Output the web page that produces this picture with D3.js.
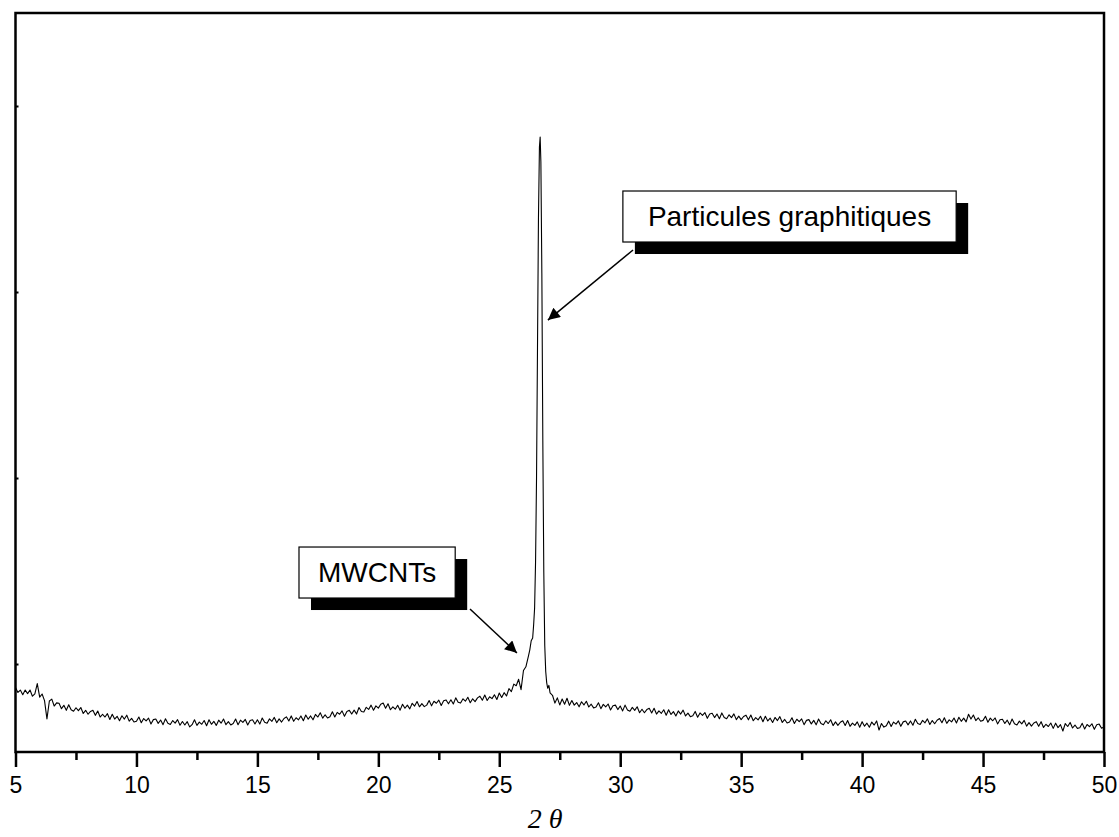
<!DOCTYPE html>
<html>
<head>
<meta charset="utf-8">
<script src="https://cdn.jsdelivr.net/npm/d3@7/dist/d3.min.js"></script>
<style>
  html, body { margin: 0; padding: 0; background: #fff; }
  svg { display: block; }
</style>
</head>
<body>
<svg id="chart" width="1119" height="837"></svg>
<script>
// ---------------- DATA ----------------
// XRD scan: 2θ grid start/step and counts (arbitrary units)
const scanStart = 5.0;
const scanStep = 0.1;

// 5.0° .. 26.2°
const lowAngleCounts = [
  874, 847, 860, 835, 860, 841, 860, 827, 840, 895,
  822, 839, 803, 705, 801, 811, 774, 791, 789, 760,
  778, 751, 781, 754, 746, 765, 749, 766, 734, 751,
  730, 745, 751, 724, 747, 715, 730, 715, 733, 702,
  730, 704, 719, 695, 722, 704, 725, 693, 708, 688,
  692, 715, 684, 707, 694, 709, 678, 701, 704, 681,
  699, 674, 706, 681, 675, 696, 682, 701, 671, 691,
  672, 690, 662, 674, 700, 670, 688, 676, 696, 668,
  700, 676, 692, 670, 698, 682, 704, 674, 690, 672,
  680, 704, 674, 698, 686, 702, 672, 696, 700, 678,
  700, 677, 710, 687, 682, 705, 692, 713, 684, 705,
  688, 707, 716, 694, 721, 692, 711, 700, 721, 695,
  726, 703, 721, 700, 729, 715, 738, 709, 727, 710,
  717, 743, 715, 740, 730, 748, 719, 745, 751, 731,
  752, 731, 766, 745, 742, 767, 756, 779, 752, 775,
  763, 784, 790, 762, 786, 754, 770, 757, 778, 752,
  784, 762, 779, 759, 789, 774, 798, 770, 787, 771,
  779, 804, 775, 800, 789, 806, 777, 802, 807, 786,
  808, 785, 818, 795, 790, 813, 800, 821, 792, 813,
  798, 818, 827, 805, 833, 804, 824, 814, 835, 809,
  844, 820, 846, 828, 868, 852, 892, 883, 918, 862,
  965, 985, 1040
];

// graphite (002) reflection, finer sampling
const peakTheta = [26.26, 26.32, 26.38, 26.42, 26.46, 26.50, 26.54, 26.58, 26.62, 26.66, 26.69,
                   26.72, 26.76, 26.80, 26.84, 26.88, 26.92, 26.96, 27.00, 27.05, 27.10];
const peakCounts = [1075, 1125, 1140, 1210, 1300, 1550, 2000, 2700, 3400, 3780, 3833,
                    3700, 3100, 2200, 1500, 1100, 960, 900, 870, 885, 845];

// 27.2° .. 50.0°
const highAngleStart = 27.2;
const highAngleCounts = [
  832, 790, 818, 780, 812, 784, 816, 778,
  804, 779, 793, 770, 797, 780, 800, 769, 784, 764,
  769, 792, 760, 783, 770, 785, 753, 776, 779, 755,
  774, 748, 779, 753, 746, 767, 751, 770, 738, 757,
  738, 755, 762, 737, 762, 731, 748, 735, 754, 725,
  754, 729, 744, 721, 748, 731, 752, 721, 736, 717,
  722, 745, 714, 737, 724, 739, 708, 731, 735, 712,
  731, 706, 737, 713, 706, 727, 712, 732, 701, 720,
  701, 718, 725, 700, 726, 695, 712, 700, 719, 690,
  719, 694, 709, 686, 713, 696, 717, 686, 702, 683,
  688, 711, 680, 703, 690, 705, 674, 697, 701, 678,
  697, 673, 704, 680, 673, 695, 680, 700, 669, 689,
  670, 687, 695, 670, 696, 665, 682, 670, 689, 660,
  690, 666, 682, 660, 688, 672, 694, 645, 680, 661,
  668, 693, 664, 688, 677, 694, 665, 689, 694, 673,
  694, 671, 703, 680, 675, 697, 684, 705, 675, 696,
  679, 698, 707, 684, 711, 681, 700, 689, 710, 683,
  714, 692, 709, 689, 730, 704, 726, 696, 711, 692,
  697, 719, 687, 709, 695, 710, 678, 700, 703, 680,
  698, 673, 704, 679, 672, 693, 678, 697, 666, 685,
  666, 683, 690, 665, 690, 659, 676, 664, 683, 654,
  682, 658, 674, 640, 680, 664, 686, 656, 672, 654,
  657, 681, 651, 675, 663, 679, 649, 673, 677, 655, 662
];

const xDomain = [5, 50];
const yDomain = [527, 4500];
const xMajorTicks = [5, 10, 15, 20, 25, 30, 35, 40, 45, 50];
const xMinorTicks = [7.5, 12.5, 17.5, 22.5, 27.5, 32.5, 37.5, 42.5, 47.5];
const yTicks = [1000, 2000, 3000, 4000];
const xAxisTitle = "2 θ";

// annotations: label, box top-left, arrow start, arrow tip (data units)
const annotLabels = ["MWCNTs", "Particules graphitiques"];
const annotBoxTheta = [16.72, 30.11];
const annotBoxCounts = [1629, 3543];
const annotPad = [19, 25];
const annotArrowFromTheta = [23.79, 30.53];
const annotArrowFromCounts = [1296, 3226];
const annotArrowToTheta = [25.73, 27.01];
const annotArrowToCounts = [1059, 2849];

// ---------------- BUILD ----------------
const series = [];
lowAngleCounts.forEach((c, i) => series.push({ t: +(scanStart + i * scanStep).toFixed(2), c }));
peakTheta.forEach((t, i) => series.push({ t, c: peakCounts[i] }));
highAngleCounts.forEach((c, i) => series.push({ t: +(highAngleStart + i * scanStep).toFixed(2), c }));

const W = 1119, H = 837;
const margin = { left: 15.5, right: 15, top: 13, bottom: 85 };
const svg = d3.select("#chart");

const x = d3.scaleLinear().domain(xDomain).range([margin.left, W - margin.right]);
const y = d3.scaleLinear().domain(yDomain).range([H - margin.bottom, margin.top]);

// arrow marker
svg.append("defs").append("marker")
  .attr("id", "arrowHead")
  .attr("viewBox", "0 0 10 10")
  .attr("refX", 10).attr("refY", 5)
  .attr("markerWidth", 16).attr("markerHeight", 12)
  .attr("markerUnits", "userSpaceOnUse")
  .attr("orient", "auto")
  .append("path").attr("d", "M0,0 L10,5 L0,10 Z").attr("fill", "#000");

// curve
const line = d3.line().x(d => x(d.t)).y(d => y(d.c));
svg.append("path")
  .datum(series)
  .attr("fill", "none")
  .attr("stroke", "#000")
  .attr("stroke-width", 1.1)
  .attr("stroke-linejoin", "round")
  .attr("d", line);

// x axis major
const xAxisG = svg.append("g")
  .attr("transform", `translate(0,${H - margin.bottom})`)
  .call(d3.axisBottom(x).tickValues(xMajorTicks).tickSize(15).tickSizeOuter(0).tickPadding(10)
        .tickFormat(d3.format("d")));
xAxisG.select(".domain").remove();
xAxisG.selectAll(".tick line").attr("stroke", "#000").attr("stroke-width", 2.5);
xAxisG.selectAll(".tick text")
  .attr("font-family", "Liberation Sans, Arial, sans-serif")
  .attr("font-size", 23).attr("fill", "#000");

// x axis minor
const xMinorG = svg.append("g")
  .attr("transform", `translate(0,${H - margin.bottom})`)
  .call(d3.axisBottom(x).tickValues(xMinorTicks).tickSize(8).tickSizeOuter(0).tickFormat(""));
xMinorG.select(".domain").remove();
xMinorG.selectAll(".tick line").attr("stroke", "#000").attr("stroke-width", 2.5);

// y axis: inward ticks, no labels
const yAxisG = svg.append("g")
  .attr("transform", `translate(${margin.left},0)`)
  .call(d3.axisLeft(y).tickValues(yTicks).tickSize(-3).tickSizeOuter(0).tickFormat(""));
yAxisG.select(".domain").remove();
yAxisG.selectAll(".tick line").attr("stroke", "#000").attr("stroke-width", 2);

// frame
svg.append("rect")
  .attr("x", x(xDomain[0])).attr("y", y(yDomain[1]))
  .attr("width", x(xDomain[1]) - x(xDomain[0]))
  .attr("height", y(yDomain[0]) - y(yDomain[1]))
  .attr("fill", "none").attr("stroke", "#000").attr("stroke-width", 2.5);

// x title
svg.append("text")
  .attr("x", x(26.9)).attr("y", H - 9)
  .attr("text-anchor", "middle")
  .attr("font-family", "Liberation Serif, Times New Roman, serif")
  .attr("font-style", "italic")
  .attr("font-size", 28)
  .attr("fill", "#000")
  .text(xAxisTitle);

// annotations
annotLabels.forEach((label, i) => {
  const g = svg.append("g");
  const bx = x(annotBoxTheta[i]), by = y(annotBoxCounts[i]);
  const txt = g.append("text")
    .attr("font-family", "Liberation Sans, Arial, sans-serif")
    .attr("font-size", 28)
    .attr("fill", "#000")
    .text(label);
  const tw = txt.node().getComputedTextLength();
  const bw = tw + 2 * annotPad[i], bh = 51;
  // arrow
  g.insert("line", "text")
    .attr("x1", x(annotArrowFromTheta[i])).attr("y1", y(annotArrowFromCounts[i]))
    .attr("x2", x(annotArrowToTheta[i])).attr("y2", y(annotArrowToCounts[i]))
    .attr("stroke", "#000").attr("stroke-width", 1.5)
    .attr("marker-end", "url(#arrowHead)");
  // shadow
  g.insert("rect", "text")
    .attr("x", bx + 12).attr("y", by + 12).attr("width", bw).attr("height", bh)
    .attr("fill", "#000");
  // box
  g.insert("rect", "text")
    .attr("x", bx).attr("y", by).attr("width", bw).attr("height", bh)
    .attr("fill", "#fff").attr("stroke", "#000").attr("stroke-width", 1.2);
  txt.attr("x", bx + annotPad[i]).attr("y", by + 35);
});
</script>
</body>
</html>
